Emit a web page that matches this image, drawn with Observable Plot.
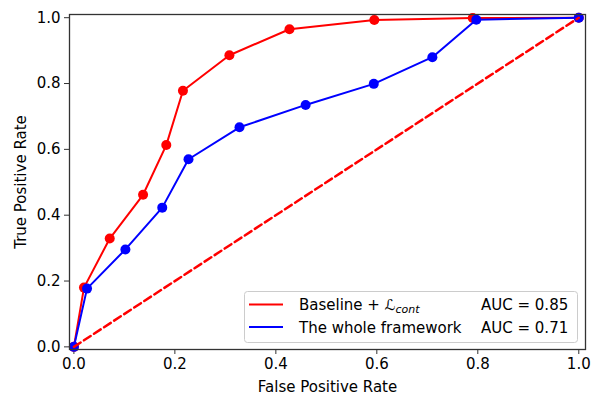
<!DOCTYPE html>
<html>
<head>
<meta charset="utf-8">
<script src="https://cdn.jsdelivr.net/npm/d3@7"></script>
<script src="https://cdn.jsdelivr.net/npm/@observablehq/plot@0.6"></script>
<style>
  html, body { margin: 0; padding: 0; background: #fff; }
  #chart { width: 595px; height: 397px; }
</style>
</head>
<body>
<div id="chart"></div>
<script>
// ---- data ----
const baselineFPR = [0, 0.02, 0.071, 0.137, 0.183, 0.216, 0.308, 0.427, 0.595, 0.79, 1.0];
const baselineTPR = [0, 0.18, 0.329, 0.462, 0.613, 0.778, 0.886, 0.965, 0.993, 0.999, 1.0];
const wholeFPR = [0, 0.026, 0.102, 0.175, 0.227, 0.328, 0.459, 0.594, 0.710, 0.797, 1.0];
const wholeTPR = [0, 0.177, 0.296, 0.423, 0.570, 0.667, 0.735, 0.799, 0.880, 0.994, 1.0];
const chanceFPR = [0, 1];
const chanceTPR = [0, 1];
const seriesNames = ["Baseline + ", "The whole framework"];
const seriesAUC = ["AUC = 0.85", "AUC = 0.71"];
const seriesColors = ["#ff0000", "#0000ff"];
const tickValues = [0, 0.2, 0.4, 0.6, 0.8, 1.0];
const xLabel = "False Positive Rate";
const yLabel = "True Positive Rate";

const toRows = (xs, ys) => xs.map((x, i) => ({x, y: ys[i]}));
const baseline = toRows(baselineFPR, baselineTPR);
const whole = toRows(wholeFPR, wholeTPR);
const chance = toRows(chanceFPR, chanceTPR);

const W = 595, H = 397;
const mL = 69, mR = 10, mT = 14, mB = 48;
const FS = 15;

const plot = Plot.plot({
  width: W, height: H,
  marginLeft: mL, marginRight: mR, marginTop: mT, marginBottom: mB,
  style: {fontFamily: "DejaVu Sans", fontSize: FS + "px", color: "#000", background: "#fff"},
  x: {domain: [-0.0087, 1.0133]},
  y: {domain: [-0.008, 1.0097]},
  marks: [
    Plot.axisX({ticks: tickValues, tickFormat: d3.format(".1f"), tickSize: 5, tickPadding: 4,
      stroke: "#333", label: xLabel, labelAnchor: "center", labelArrow: "none", labelOffset: 42, fontSize: FS}),
    Plot.axisY({ticks: tickValues, tickFormat: d3.format(".1f"), tickSize: 5, tickPadding: 4,
      stroke: "#333", label: yLabel, labelAnchor: "center", labelArrow: "none", labelOffset: 54, fontSize: FS}),
    Plot.line(baseline, {x: "x", y: "y", stroke: seriesColors[0], strokeWidth: 2}),
    Plot.dot(baseline, {x: "x", y: "y", fill: seriesColors[0], r: 5}),
    Plot.line(whole, {x: "x", y: "y", stroke: seriesColors[1], strokeWidth: 2}),
    Plot.dot(whole, {x: "x", y: "y", fill: seriesColors[1], r: 5}),
    Plot.line(chance, {x: "x", y: "y", stroke: seriesColors[0], strokeWidth: 2.5, strokeDasharray: "8,4"}),
    Plot.frame({stroke: "#333", strokeWidth: 1.3})
  ]
});
document.getElementById("chart").appendChild(plot);

// ---- legend (inside the plot, lower right) ----
const svg = d3.select(plot);
const lgW = 333, lgH = 51;
const lgX = (W - mR) - 8 - lgW;
const lgY = (H - mB) - 7 - lgH;
const g = svg.append("g").attr("transform", `translate(${lgX},${lgY})`)
  .style("font-family", "DejaVu Sans").style("font-size", FS + "px");
g.append("rect").attr("x", 0.5).attr("y", 0.5).attr("width", lgW).attr("height", lgH)
  .attr("rx", 3).attr("fill", "#fff").attr("fill-opacity", 0.8).attr("stroke", "#cccccc");
seriesNames.forEach((name, i) => {
  const cy = 13.5 + i * 22.5;
  g.append("line").attr("x1", 5).attr("x2", 39).attr("y1", cy).attr("y2", cy)
    .attr("stroke", seriesColors[i]).attr("stroke-width", 2);
  const t = g.append("text").attr("x", 55).attr("y", cy + 5.5).attr("fill", "#000").attr("text-anchor", "start");
  t.append("tspan").text(name);
  if (i === 0) {
    t.append("tspan").text("\u2112").style("font-style", "italic");
    t.append("tspan").text("cont").attr("dy", 3).style("font-size", "11px").style("font-style", "italic");
  }
  g.append("text").attr("x", 237).attr("y", cy + 5.5).attr("fill", "#000").attr("text-anchor", "start").text(seriesAUC[i]);
});
</script>
</body>
</html>
